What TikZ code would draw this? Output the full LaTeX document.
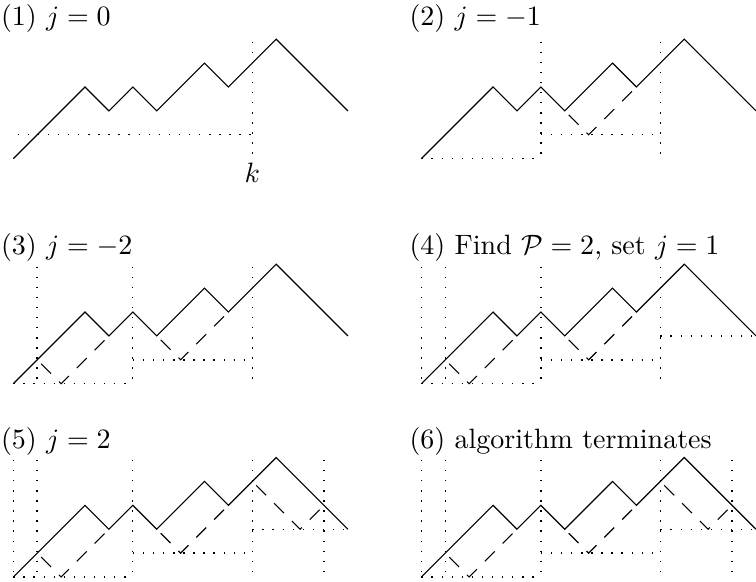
\documentclass[tikz,border=0pt]{standalone}
\newcommand\drawwalk{\draw[lpath] (0,0)--(3,3)--(4,2)--(5,3)--(6,2)--(8,4)--(9,3)--(11,5)--(14,2);}
\begin{document}
\begin{tikzpicture}[x=0.3cm,y=0.3cm,
  lpath/.style={line width=0.4pt},
  dotln/.style={line width=0.5pt, dash pattern=on 0.5pt off 3.1pt},
  dashln/.style={line width=0.4pt, dash pattern=on 5pt off 4pt, dash phase=7pt},
  ttl/.style={anchor=base west, inner sep=0pt}]
\useasboundingbox (0,0) rectangle (31.63,-24.31);
% titles
\node[ttl] (t1) at (0.021,-1.088) {(1) $j=0$};
\node[ttl] (t2) at (17.11,-1.088) {(2) $j=-1$};
\node[ttl] (t3) at (0.021,-10.63) {(3) $j=-2$};
\node[ttl] (t4) at (17.11,-10.63) {(4) Find $\mathcal{P}=2$, set $j=1$};
\node[ttl] (t5) at (0.021,-18.77) {(5) $j=2$};
\node[ttl] (t6) at (17.11,-18.77) {(6) algorithm terminates};
% panel 1
\begin{scope}[shift={(0.556,-6.640)}]
  \drawwalk
  \draw[dotln] (10,4.9)--(10,0);
  \draw[dotln] (0.18,1)--(10,1);
  \node[anchor=base] (k) at (10,-1) {$k$};
\end{scope}
% panel 2
\begin{scope}[shift={(17.628,-6.640)}]
  \drawwalk
  \foreach \x in {5,10} \draw[dotln] (\x,4.9)--(\x,0);
  \draw[dotln] (0,0)--(5,0);
  \draw[dotln] (5,1)--(10,1);
  \draw[dashln] (6,2)--(7,1)--(9,3);
\end{scope}
% panel 3
\begin{scope}[shift={(0.556,-16.054)}]
  \drawwalk
  \foreach \x in {1,5,10} \draw[dotln] (\x,4.9)--(\x,0);
  \draw[dotln] (0,0)--(5,0);
  \draw[dotln] (5,1)--(10,1);
  \draw[dashln] (1,1)--(2,0)--(4,2);
  \draw[dashln] (6,2)--(7,1)--(9,3);
\end{scope}
% panel 4
\begin{scope}[shift={(17.628,-16.054)}]
  \drawwalk
  \foreach \x in {0,1,5,10} \draw[dotln] (\x,4.9)--(\x,0);
  \draw[dotln] (0,0)--(5,0);
  \draw[dotln] (5,1)--(10,1);
  \draw[dotln] (10,2)--(14,2);
  \draw[dashln] (1,1)--(2,0)--(4,2);
  \draw[dashln] (6,2)--(7,1)--(9,3);
\end{scope}
% panel 5 and 6
\foreach \sx in {0.556,17.628}{
\begin{scope}[shift={(\sx,-24.142)}]
  \drawwalk
  \foreach \x in {0,1,5,10,13} \draw[dotln] (\x,4.9)--(\x,0);
  \draw[dotln] (0,0)--(5,0);
  \draw[dotln] (5,1)--(10,1);
  \draw[dotln] (10,2)--(14,2);
  \draw[dashln] (1,1)--(2,0)--(4,2);
  \draw[dashln] (6,2)--(7,1)--(9,3);
  \draw[dashln] (10,4)--(12,2)--(13,3);
\end{scope}}
\end{tikzpicture}
\end{document}
